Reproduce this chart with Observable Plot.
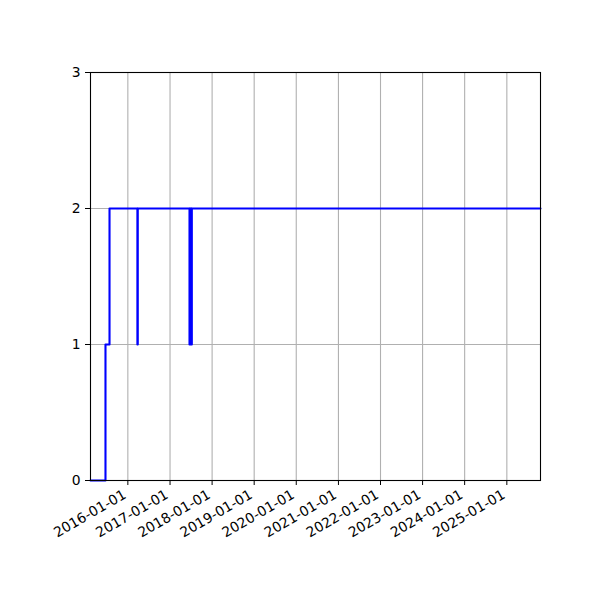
<!DOCTYPE html>
<html><head>
<meta charset="utf-8">
<script src="https://cdn.jsdelivr.net/npm/d3@7"></script>
<script src="https://cdn.jsdelivr.net/npm/@observablehq/plot@0.6"></script>
<style>body{margin:0;background:#fff}</style>
</head><body><div id="chart"></div>
<script>
// step change points (value holds until next date)
const changeDates = ["2015-02-11","2015-06-21","2015-07-26","2016-03-24","2016-03-27",
  "2017-06-19","2017-06-22","2017-06-29","2017-07-02","2017-07-06","2017-07-09","2025-10-20"];
const values = [0,1,2,1,2,1,2,1,2,1,2,2];
const yTicks = [0,1,2,3];
const xTickLabels = ["2016-01-01","2017-01-01","2018-01-01","2019-01-01","2020-01-01",
  "2021-01-01","2022-01-01","2023-01-01","2024-01-01","2025-01-01"];
const xDomain = ["2015-02-11","2025-10-20"];

const parse = d3.utcParse("%Y-%m-%d");
const data = changeDates.map((d,i)=>({date: parse(d), value: values[i]}));
const xTicks = xTickLabels.map(parse);

const chart = Plot.plot({
  width: 600, height: 600,
  marginLeft: 90, marginRight: 60, marginTop: 72, marginBottom: 120,
  style: {fontFamily: "DejaVu Sans", fontSize: "13.9px", color: "black", background: "white"},
  x: {type: "utc", domain: xDomain.map(parse)},
  y: {domain: [0,3]},
  marks: [
    Plot.gridX(xTicks, {stroke: "#b0b0b0", strokeOpacity: 1, strokeWidth: 1.1}),
    Plot.gridY(yTicks, {stroke: "#b0b0b0", strokeOpacity: 1, strokeWidth: 1.1}),
    Plot.line(data, {x: "date", y: "value", curve: "step-after", stroke: "#0000ff", strokeWidth: 2.1}),
    Plot.frame({stroke: "black", strokeWidth: 1.1}),
    Plot.axisY({ticks: yTicks, tickSize: 5, tickPadding: 5, label: null, tickFormat: d=>String(d), fontSize: "13.9px"}),
    Plot.axisX({ticks: xTicks, tickSize: 5, label: null, tickFormat: () => ""}),
    Plot.axisX({ticks: xTicks, tickSize: 0, tickPadding: 10, tickRotate: -30, dx: -3, dy: 3, label: null, tickFormat: d3.utcFormat("%Y-%m-%d"), fontSize: "13.9px"})
  ]
});
document.getElementById("chart").appendChild(chart);
</script>
</body></html>
